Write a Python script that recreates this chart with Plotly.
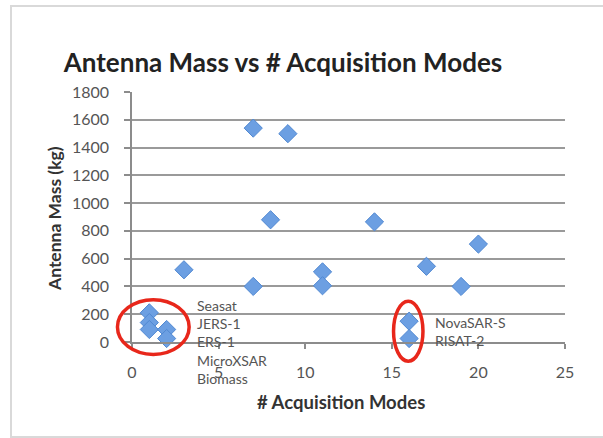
import plotly.graph_objects as go

# ---- data ----
acq_modes = [1, 1, 1, 2, 2, 3, 7, 7, 8, 9, 11, 11, 14, 16, 16, 17, 19, 20]
antenna_mass = [210, 140, 90, 90, 25, 520, 1540, 400, 880, 1500, 505, 405, 865, 150, 25, 545, 400, 705]
group1_labels = ["Seasat", "JERS-1", "ERS-1", "MicroXSAR", "Biomass"]
group2_labels = ["NovaSAR-S", "RISAT-2"]
x_ticks = [0, 5, 10, 15, 20, 25]
y_ticks = [0, 200, 400, 600, 800, 1000, 1200, 1400, 1600, 1800]

W, H = 603, 438
ML, MR, MT, MB = 132, 38, 92, 96
PW, PH = W - ML - MR, H - MT - MB
XR = (0, 25)
YR = (0, 1800)

def px_x(px):
    return (px - ML) / PW

def px_y(py):
    return (H - MB - py) / PH

def dx(v):
    return (v - XR[0]) / (XR[1] - XR[0])

def dy(v):
    return (v - YR[0]) / (YR[1] - YR[0])

FONT = "Lato"

fig = go.Figure()
fig.add_trace(go.Scatter(
    x=acq_modes, y=antenna_mass, mode="markers",
    marker=dict(symbol="diamond", size=14, color="#6c9fe2",
                line=dict(color="#5088d2", width=1)),
    cliponaxis=False, showlegend=False, hoverinfo="skip",
))

shapes = [
    # outer chart border
    dict(type="rect", xref="paper", yref="paper",
         x0=px_x(11), x1=px_x(620), y0=px_y(437), y1=px_y(6),
         line=dict(color="#d9d9d9", width=2), layer="below"),
    # red highlight ellipses
    dict(type="circle", xref="paper", yref="paper",
         x0=dx(-0.84), x1=dx(3.3), y0=dy(-90), y1=dy(305),
         line=dict(color="#e8271b", width=3.5)),
    dict(type="circle", xref="paper", yref="paper",
         x0=dx(15.1), x1=dx(16.8), y0=dy(-138), y1=dy(294),
         line=dict(color="#e8271b", width=3.5)),
]

annotations = [
    dict(text="<br>".join(group1_labels), xref="x", yref="y", x=3.65, y=335,
         xanchor="left", yanchor="top", showarrow=False, align="left",
         font=dict(family=FONT, size=14, color="#555555")),
    dict(text="<br>".join(group2_labels), xref="x", yref="y", x=17.4, y=216,
         xanchor="left", yanchor="top", showarrow=False, align="left",
         font=dict(family=FONT, size=14, color="#555555")),
    dict(text="<b>Antenna Mass (kg)</b>", xref="paper", yref="paper",
         x=px_x(54), y=px_y(219), textangle=-90, showarrow=False,
         xanchor="center", yanchor="middle",
         font=dict(family=FONT, size=17.5, color="#333333")),
    dict(text="<b># Acquisition Modes</b>", xref="paper", yref="paper",
         x=px_x(341), y=px_y(402), showarrow=False,
         xanchor="center", yanchor="middle",
         font=dict(family=FONT, size=18.5, color="#333333")),
]

fig.update_layout(
    width=W, height=H,
    margin=dict(l=ML, r=MR, t=MT, b=MB, pad=0),
    paper_bgcolor="white", plot_bgcolor="white",
    title=dict(text="<b>Antenna Mass vs # Acquisition Modes</b>",
               x=283 / W, xref="container", xanchor="center",
               y=1 - 63 / H, yref="container", yanchor="middle",
               font=dict(family=FONT, size=26, color="#222222")),
    shapes=shapes, annotations=annotations,
    xaxis=dict(range=list(XR), tickvals=x_ticks, showgrid=False, zeroline=False,
               showline=True, linecolor="#8c8c8c", linewidth=1.5,
               ticks="outside", ticklen=5, tickcolor="#8c8c8c", tickwidth=1.5,
               ticklabelstandoff=10,
               tickfont=dict(family=FONT, size=16, color="#555555")),
    yaxis=dict(range=list(YR), tickvals=y_ticks, showgrid=True, gridcolor="#9a9a9a",
               gridwidth=1.5, zeroline=False,
               showline=True, linecolor="#8c8c8c", linewidth=1.5,
               ticks="outside", ticklen=6, tickcolor="#8c8c8c", tickwidth=1.5,
               ticklabelstandoff=12,
               tickfont=dict(family=FONT, size=16, color="#555555")),
)

fig.write_html("out.html",
               config={"displayModeBar": False},
               post_script="document.body.style.margin='0';document.body.style.padding='0';")
